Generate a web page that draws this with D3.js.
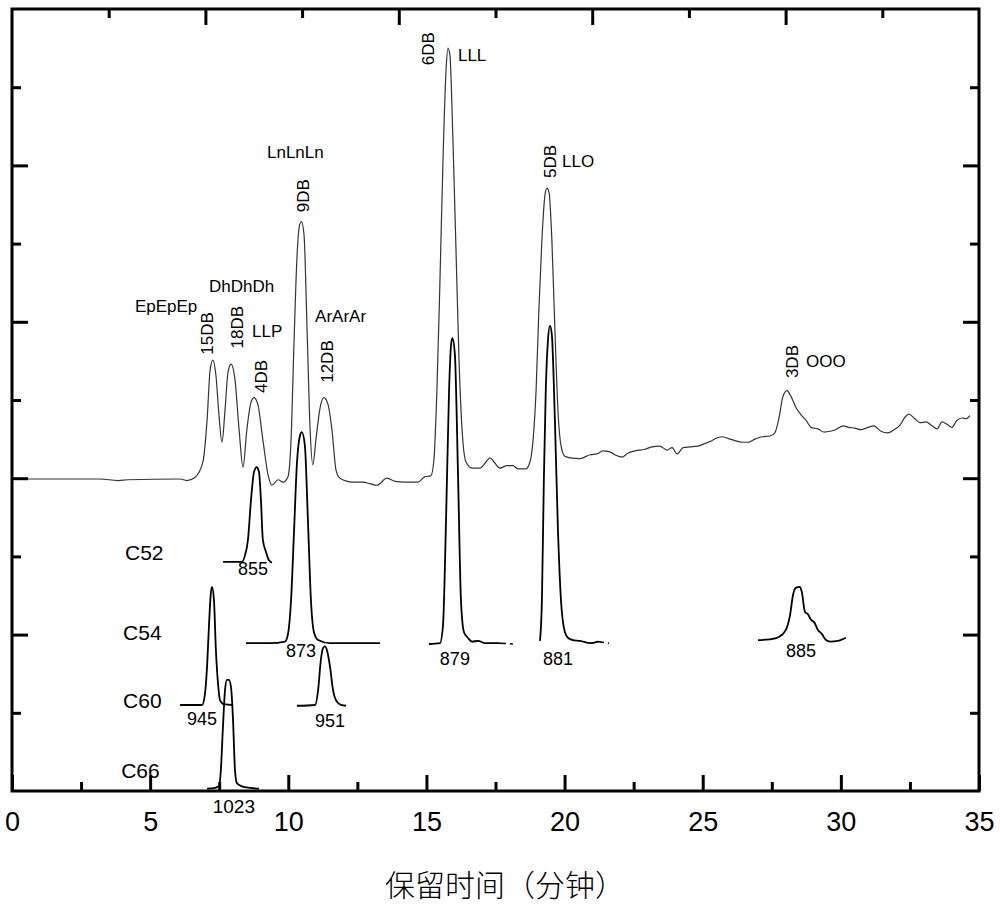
<!DOCTYPE html>
<html>
<head>
<meta charset="utf-8">
<script src="https://cdn.jsdelivr.net/npm/d3@7"></script>
<style>
  body { margin: 0; background: #fff; }
  text { font-family: Arial, "Liberation Sans", sans-serif; fill: #000; }
</style>
</head>
<body>
<div id="chart"></div>
<script>
// retention time (min), signal (arbitrary units, frame = 0..10)
var mainTrace = [
  [0, 3.99], [3.18, 3.99], [3.84, 3.97], [4.20, 3.98], [6.08, 3.99], [6.33, 3.97], [6.62, 4.01],
  [6.91, 4.21], [7.06, 4.74], [7.17, 5.38], [7.27, 5.51], [7.38, 5.32], [7.49, 4.81], [7.60, 4.46],
  [7.71, 4.87], [7.82, 5.36], [7.93, 5.46], [8.07, 5.26], [8.22, 4.62], [8.36, 4.14], [8.50, 4.62],
  [8.65, 4.97], [8.76, 5.03], [8.90, 4.94], [9.08, 4.49], [9.27, 4.04], [9.41, 3.91], [9.63, 3.98],
  [9.81, 3.95], [9.99, 4.02], [10.10, 4.49], [10.21, 5.77], [10.31, 6.79], [10.41, 7.24], [10.48, 7.28],
  [10.57, 7.11], [10.68, 5.90], [10.79, 4.62], [10.89, 4.17], [11.00, 4.49], [11.15, 4.90], [11.29, 5.03],
  [11.44, 4.94], [11.58, 4.62], [11.73, 4.10], [11.87, 4.00], [12.34, 3.95], [12.70, 3.95], [12.96, 3.93],
  [13.21, 3.91], [13.57, 4.00], [13.86, 3.96], [14.22, 3.95], [14.69, 3.95], [14.95, 4.02], [15.16, 4.03],
  [15.27, 4.23], [15.38, 5.13], [15.49, 6.53], [15.60, 8.07], [15.71, 9.22], [15.78, 9.50], [15.85, 9.41],
  [15.96, 8.32], [16.07, 6.92], [16.18, 5.51], [16.29, 4.62], [16.43, 4.21], [16.65, 4.13], [16.94, 4.13],
  [17.16, 4.21], [17.30, 4.26], [17.44, 4.21], [17.66, 4.13], [17.92, 4.16], [18.13, 4.16], [18.31, 4.12],
  [18.60, 4.12], [18.75, 4.21], [18.86, 4.49], [18.97, 5.13], [19.07, 6.15], [19.18, 7.05], [19.29, 7.62],
  [19.36, 7.71], [19.44, 7.65], [19.54, 7.05], [19.65, 5.90], [19.76, 4.87], [19.87, 4.42], [20.01, 4.28],
  [20.20, 4.26], [20.56, 4.25], [20.92, 4.30], [21.17, 4.31], [21.39, 4.35], [21.61, 4.34], [21.82, 4.30],
  [22.08, 4.27], [22.29, 4.32], [22.55, 4.35], [22.91, 4.37], [23.16, 4.40], [23.45, 4.41], [23.71, 4.36],
  [23.89, 4.39], [24.07, 4.31], [24.29, 4.39], [24.54, 4.40], [24.83, 4.41], [25.12, 4.45], [25.33, 4.48],
  [25.48, 4.51], [25.70, 4.53], [25.91, 4.51], [26.17, 4.48], [26.42, 4.46], [26.64, 4.46], [26.89, 4.50],
  [27.14, 4.53], [27.43, 4.54], [27.61, 4.58], [27.76, 4.77], [27.90, 5.04], [28.05, 5.12], [28.19, 5.05],
  [28.38, 4.90], [28.56, 4.81], [28.74, 4.74], [28.92, 4.65], [29.17, 4.63], [29.39, 4.59], [29.61, 4.60],
  [29.86, 4.63], [30.08, 4.67], [30.29, 4.65], [30.51, 4.64], [30.73, 4.62], [30.98, 4.65], [31.20, 4.67],
  [31.45, 4.60], [31.70, 4.58], [31.92, 4.62], [32.14, 4.68], [32.32, 4.78], [32.46, 4.82], [32.65, 4.77],
  [32.86, 4.71], [33.08, 4.72], [33.30, 4.67], [33.48, 4.63], [33.66, 4.72], [33.84, 4.69], [34.02, 4.65],
  [34.20, 4.74], [34.38, 4.77], [34.53, 4.76], [34.67, 4.80]
];

// standards
var std855 = [[7.64, 2.93], [8.32, 2.93], [8.43, 3.01], [8.54, 3.21], [8.65, 3.72], [8.76, 4.08], [8.85, 4.14],
  [8.94, 4.08], [9.01, 3.72], [9.08, 3.21], [9.19, 3.06], [9.30, 2.95], [9.41, 2.92]];
var std873 = [[8.47, 1.89], [9.34, 1.89], [9.88, 1.91], [9.99, 2.01], [10.10, 2.44], [10.21, 3.34], [10.31, 4.17],
  [10.42, 4.54], [10.49, 4.59], [10.60, 4.42], [10.71, 3.47], [10.82, 2.44], [10.93, 2.03], [11.08, 1.93],
  [11.51, 1.89], [13.32, 1.89]];
var std879 = [[15.09, 1.88], [15.49, 1.89], [15.60, 2.12], [15.71, 3.47], [15.82, 5.13], [15.89, 5.70], [15.94, 5.79],
  [16.03, 5.58], [16.14, 4.10], [16.25, 2.44], [16.36, 2.03], [16.50, 1.96], [16.65, 1.91], [16.87, 1.92],
  [17.12, 1.89], [17.66, 1.89]];
var std881 = [[19.11, 1.92], [19.18, 2.44], [19.25, 3.98], [19.32, 5.13], [19.40, 5.77], [19.47, 5.95], [19.54, 5.83],
  [19.65, 4.74], [19.76, 3.34], [19.87, 2.44], [19.98, 2.08], [20.12, 1.96], [20.30, 1.93], [20.56, 1.92],
  [20.92, 1.89], [21.21, 1.91]];
var std885 = [[27.00, 1.93], [27.43, 1.94], [27.76, 1.97], [28.01, 2.06], [28.16, 2.25], [28.27, 2.51], [28.38, 2.60],
  [28.52, 2.61], [28.59, 2.54], [28.70, 2.29], [28.81, 2.26], [28.92, 2.19], [29.03, 2.16], [29.17, 2.06],
  [29.31, 2.01], [29.46, 1.93], [29.61, 1.91], [29.90, 1.92], [30.18, 1.96]];
var std945 = [[6.08, 1.10], [6.88, 1.10], [6.98, 1.23], [7.06, 1.59], [7.13, 2.12], [7.20, 2.54], [7.24, 2.61],
  [7.31, 2.44], [7.38, 1.80], [7.46, 1.36], [7.53, 1.16], [7.67, 1.11], [8.00, 1.10]];
var std951 = [[10.31, 1.09], [10.97, 1.10], [11.08, 1.29], [11.18, 1.68], [11.26, 1.83], [11.33, 1.85], [11.40, 1.80],
  [11.51, 1.59], [11.62, 1.29], [11.76, 1.14], [11.91, 1.10], [12.09, 1.09]];
var std1023 = [[7.06, 0.03], [7.35, 0.04], [7.49, 0.06], [7.56, 0.27], [7.63, 0.78], [7.71, 1.29], [7.78, 1.42],
  [7.85, 1.42], [7.93, 1.32], [8.00, 0.91], [8.07, 0.27], [8.14, 0.10], [8.32, 0.06], [8.61, 0.04], [8.94, 0.03]];
// noisy dashed tails after the 879 / 881 peaks
var tail879 = [[17.66, 1.89], [18.13, 1.88]];
var tail881 = [[21.21, 1.91], [21.61, 1.89]];

var standards = [std855, std873, std879, std881, std885, std945, std951, std1023];
var tails = [tail879, tail881];

// labels
var dbLabels = ["15DB", "18DB", "4DB", "9DB", "12DB", "6DB", "5DB", "3DB"];
var dbAt = [[7.27, 5.58], [8.36, 5.66], [9.23, 5.09], [10.75, 7.40], [11.62, 5.22], [15.27, 9.28], [19.69, 7.84], [28.45, 5.28]];
var tagLabels = ["EpEpEp", "DhDhDh", "LLP", "LnLnLn", "ArArAr", "LLL", "LLO", "OOO"];
var tagAt = [[4.45, 6.13], [7.13, 6.38], [8.69, 5.81], [9.23, 8.09], [10.97, 6.00], [16.14, 9.33], [19.91, 7.98], [28.74, 5.42]];
var massLabels = ["855", "873", "879", "881", "885", "945", "951", "1023"];
var massAt = [[8.72, 2.76], [10.46, 1.71], [16.03, 1.61], [19.76, 1.61], [28.56, 1.71], [6.88, 0.84], [11.51, 0.82], [8.03, -0.28]];
var carbonLabels = ["C52", "C54", "C60", "C66"];
var carbonAt = [[4.09, 2.95], [4.02, 1.93], [4.02, 1.06], [3.95, 0.17]];

var xTicks = [0, 5, 10, 15, 20, 25, 30, 35];
var xTitle = "保留时间（分钟）";

var W = 1000, H = 906;
var L = 12, R = 979, T = 9, B = 791;

var svg = d3.select("#chart").append("svg")
  .attr("width", W).attr("height", H);

svg.append("rect").attr("width", W).attr("height", H).attr("fill", "#fff");

var x = d3.scaleLinear().domain([0, 35]).range([L, R]);
var y = d3.scaleLinear().domain([0, 10]).range([B, T]);
var xTop = d3.scaleLinear().domain([0, 10]).range([L, R]);

var line = d3.line()
  .x(function (d) { return x(d[0]); })
  .y(function (d) { return y(d[1]); })
  .curve(d3.curveMonotoneX);

// main chromatogram
svg.append("path")
  .datum(mainTrace)
  .attr("d", line)
  .attr("fill", "none")
  .attr("stroke", "#333")
  .attr("stroke-width", 1.2);

// standards
standards.forEach(function (s) {
  svg.append("path")
    .datum(s)
    .attr("d", line)
    .attr("fill", "none")
    .attr("stroke", "#000")
    .attr("stroke-width", 1.8);
});
tails.forEach(function (s) {
  svg.append("path")
    .datum(s)
    .attr("d", line)
    .attr("fill", "none")
    .attr("stroke", "#000")
    .attr("stroke-width", 1.6)
    .attr("stroke-dasharray", "6,4");
});

// axes
function styleAxis(g) {
  g.select(".domain").remove();
  g.selectAll(".tick line").attr("stroke", "#000").attr("stroke-width", 3);
}

svg.append("g")
  .attr("transform", "translate(0," + B + ")")
  .call(d3.axisBottom(x).tickValues(xTicks).tickSizeInner(-16).tickSizeOuter(0).tickPadding(21))
  .call(styleAxis)
  .selectAll("text")
  .style("font-size", "27px")
  .style("font-family", "Arial, 'Liberation Sans', sans-serif");

svg.append("g")
  .attr("transform", "translate(0," + B + ")")
  .call(d3.axisBottom(x).tickValues(d3.range(2.5, 35, 5)).tickSizeInner(-9).tickSizeOuter(0).tickFormat(""))
  .call(styleAxis);

svg.append("g")
  .attr("transform", "translate(0," + T + ")")
  .call(d3.axisTop(xTop).tickValues([2, 4, 6, 8]).tickSizeInner(-16).tickSizeOuter(0).tickFormat(""))
  .call(styleAxis);
svg.append("g")
  .attr("transform", "translate(0," + T + ")")
  .call(d3.axisTop(xTop).tickValues([1, 3, 5, 7, 9]).tickSizeInner(-9).tickSizeOuter(0).tickFormat(""))
  .call(styleAxis);

[[d3.axisLeft, L], [d3.axisRight, R]].forEach(function (a) {
  svg.append("g")
    .attr("transform", "translate(" + a[1] + ",0)")
    .call(a[0](y).tickValues([2, 4, 6, 8]).tickSizeInner(-16).tickSizeOuter(0).tickFormat(""))
    .call(styleAxis);
  svg.append("g")
    .attr("transform", "translate(" + a[1] + ",0)")
    .call(a[0](y).tickValues([1, 3, 5, 7, 9]).tickSizeInner(-9).tickSizeOuter(0).tickFormat(""))
    .call(styleAxis);
});

// frame
svg.append("rect")
  .attr("x", L).attr("y", T)
  .attr("width", R - L).attr("height", B - T)
  .attr("fill", "none")
  .attr("stroke", "#000")
  .attr("stroke-width", 3);

// rotated DB labels
dbLabels.forEach(function (t, i) {
  svg.append("text")
    .attr("transform", "translate(" + x(dbAt[i][0]) + "," + y(dbAt[i][1]) + ") rotate(-90)")
    .style("font-size", "17px")
    .text(t);
});

tagLabels.forEach(function (t, i) {
  svg.append("text")
    .attr("x", x(tagAt[i][0]))
    .attr("y", y(tagAt[i][1]))
    .style("font-size", "17px")
    .text(t);
});

massLabels.forEach(function (t, i) {
  svg.append("text")
    .attr("x", x(massAt[i][0]))
    .attr("y", y(massAt[i][1]))
    .attr("text-anchor", "middle")
    .style("font-size", t.length > 3 ? "19px" : "18px")
    .text(t);
});

carbonLabels.forEach(function (t, i) {
  svg.append("text")
    .attr("x", x(carbonAt[i][0]))
    .attr("y", y(carbonAt[i][1]))
    .style("font-size", "21px")
    .text(t);
});

// axis title
svg.append("text")
  .attr("x", 505)
  .attr("y", 883)
  .attr("text-anchor", "middle")
  .attr("dominant-baseline", "central")
  .style("font-family", "'Noto Sans CJK SC', sans-serif")
  .style("font-weight", 300)
  .style("font-size", "30px")
  .text(xTitle);
</script>
</body>
</html>
